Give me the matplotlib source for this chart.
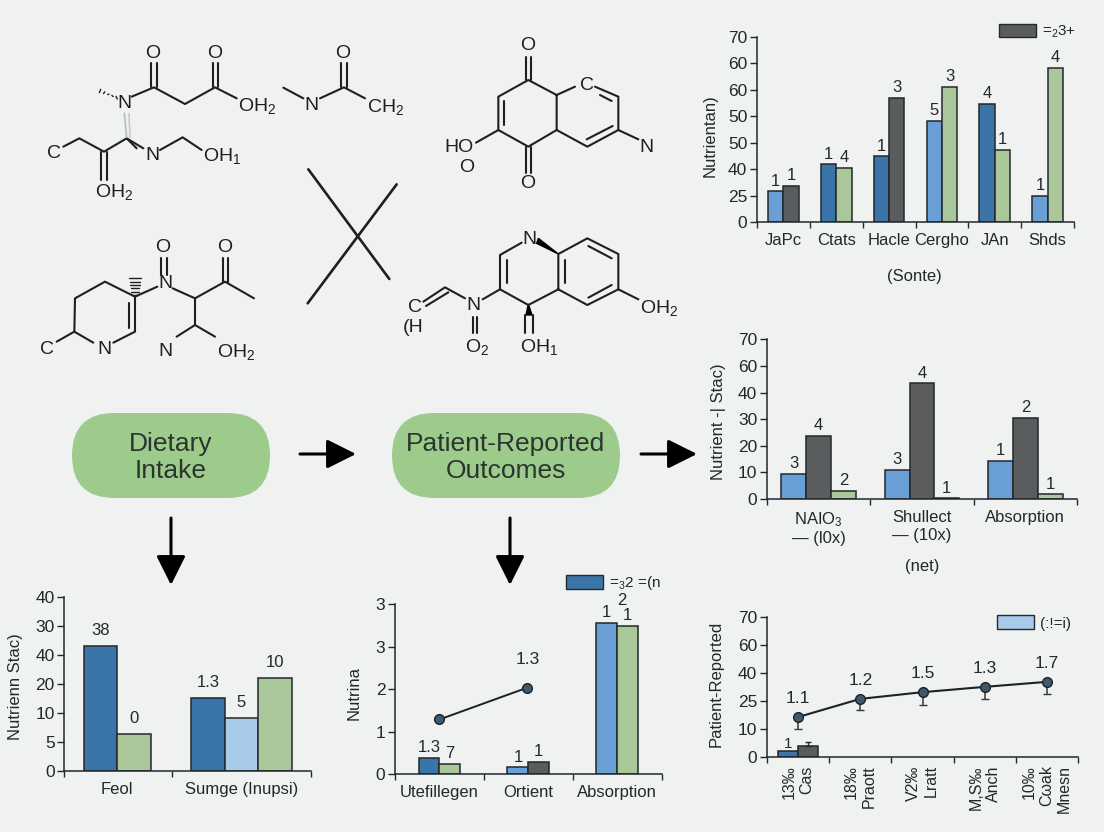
import matplotlib
matplotlib.use("Agg")
import matplotlib.pyplot as plt
from matplotlib.patches import FancyBboxPatch, Patch, Polygon

plt.rcParams['font.family'] = ['Liberation Sans', 'DejaVu Sans']
plt.rcParams['mathtext.fontset'] = 'custom'
plt.rcParams['mathtext.rm'] = 'Liberation Sans'
plt.rcParams['mathtext.default'] = 'regular'

W, H = 1104, 832
BG = '#f0f1f1'
INK = '#22282c'
DARK = '#3b74a8'
LIGHT = '#6a9fd6'
GREY = '#5b5c5d'
GREEN = '#a9c798'
PALE = '#a8cbec'
PILL = '#9dcb8c'

# top right chart
top_cats = ['JaPc', 'Ctats', 'Hacle', 'Cergho', 'JAn', 'Shds']
top_ticks = ['0', '25', '40', '50', '50', '60', '60', '70']
top_vals = [[11.6, 13.6], [21.8, 20.4], [24.8, 46.9], [38.3, 51.0], [44.6, 27.1], [10.0, 58.1]]
top_labels = [['1', '1'], ['1', '4'], ['1', '3'], ['5', '3'], ['4', '1'], ['1', '4']]
top_colors = [[LIGHT, GREY], [DARK, GREEN], [DARK, GREY], [LIGHT, GREEN], [DARK, GREEN], [LIGHT, GREEN]]

# middle right chart
mid_cats = ['NAIO$_3$\n— (l0x)', 'Shullect\n— (10x)', 'Absorption']
mid_ticks = ['0', '10', '20', '30', '40', '60', '70']
mid_vals = [[9.5, 23.8, 3.1], [10.8, 43.4, 0.2], [14.3, 30.5, 1.7]]
mid_labels = [['3', '4', '2'], ['3', '4', '1'], ['1', '2', '1']]
mid_colors = [LIGHT, GREY, GREEN]

# bottom right chart
low_cats = ['13‰\nCas', '18‰\nPraott', 'V2‰\nLratt', 'M,S‰\nAnch', '10‰\nCωak\nMnesn']
low_ticks = ['0', '10', '25', '40', '60', '70']
low_line = [14.3, 20.8, 23.2, 25.1, 26.9]
low_err = [4.1, 4.1, 4.7, 4.2, 4.4]
low_line_labels = ['1.1', '1.2', '1.5', '1.3', '1.7']
low_bars = [2.1, 3.8]
low_bar_err = 1.6

# bottom middle chart
cen_cats = ['Utefillegen', 'Ortient', 'Absorption']
cen_ticks = ['0', '1', '2', '3', '3']
cen_vals = [[0.38, 0.25], [0.165, 0.29], [3.56, 3.5]]
cen_labels = [['1.3', '7'], ['1', '1'], ['1', '1']]
cen_colors = [[DARK, GREEN], [LIGHT, GREY], [LIGHT, GREEN]]
cen_line = [1.29, 2.04]

# bottom left chart
left_cats = ['Feol', 'Sumge (Inupsi)']
left_ticks = ['0', '5', '10', '20', '40', '30', '40']
left_vals = [[4.3, 1.26], [2.5, 1.82, 3.18]]
left_labels = [['38', '0'], ['1.3', '5', '10']]
left_colors = [[DARK, GREEN], [DARK, PALE, GREEN]]

fig = plt.figure(figsize=(W / 100, H / 100), dpi=100, facecolor=BG)

# whole figure layer in pixels, used for the drawing and the flow arrows
bg = fig.add_axes([0, 0, 1, 1])
bg.set_xlim(0, W)
bg.set_ylim(H, 0)
bg.axis('off')


def panel(x0, x1, y_base, y_top, ylim, ticks, tick_labels, ylabel, label_xy):
    ax = fig.add_axes([x0 / W, 1 - y_base / H, (x1 - x0) / W, (y_base - y_top) / H])
    ax.patch.set_visible(False)
    for side in ['top', 'right']:
        ax.spines[side].set_visible(False)
    for side in ['left', 'bottom']:
        ax.spines[side].set_linewidth(1.1)
        ax.spines[side].set_color(INK)
    ax.set_ylim(*ylim)
    ax.set_yticks(ticks)
    ax.set_yticklabels(tick_labels, fontsize=12.5, color=INK)
    ax.tick_params(axis='y', length=5, width=1, color=INK, pad=2)
    ax.set_ylabel(ylabel, fontsize=12, color=INK)
    ax.yaxis.set_label_coords(label_xy[0], label_xy[1], transform=bg.transData)
    return ax


def cat_axis(ax, edges, centers, names, size=12):
    ax.set_xlim(edges[0], edges[-1])
    ax.set_xticks(edges)
    ax.set_xticklabels([])
    ax.tick_params(axis='x', which='major', length=4, width=1, color=INK)
    ax.set_xticks(centers, minor=True)
    ax.set_xticklabels(names, minor=True, fontsize=size, color=INK)
    ax.tick_params(axis='x', which='minor', length=0, pad=8)


def group_bars(ax, center, vals, labels, colors, width, size=12, pad=2):
    start = center - width * len(vals) / 2
    xs = [start + width * (i + 0.5) for i in range(len(vals))]
    bars = ax.bar(xs, vals, width, color=colors, edgecolor=INK, linewidth=1.1)
    ax.bar_label(bars, labels=labels, padding=pad, fontsize=size, color=INK)


def small_legend(ax, color, text, anchor):
    leg = ax.legend(handles=[Patch(facecolor=color, edgecolor=INK, linewidth=1, label=text)],
                    loc='center left', bbox_to_anchor=anchor, bbox_transform=bg.transData,
                    frameon=False, fontsize=11, handlelength=2.4, handleheight=1.0,
                    handletextpad=0.4, borderpad=0, borderaxespad=0)
    leg.get_texts()[0].set_color(INK)


# chart 1
ax = panel(757, 1074, 222, 36.7, (0, 70), range(0, 71, 10), top_ticks, 'Nutrientan)', (718, 136))
cat_axis(ax, list(range(7)), [i + 0.5 for i in range(6)], top_cats, size=12)
for i in range(6):
    group_bars(ax, i + 0.5, top_vals[i], top_labels[i], top_colors[i], 0.29)
small_legend(ax, GREY, '=$_2$3+', (999, 32))
bg.text(914, 277, '(Sonte)', ha='center', va='center', fontsize=12, color=INK)

# chart 2
ax = panel(767, 1077, 499, 339.3, (0, 60), range(0, 61, 10), mid_ticks, 'Nutrient -| Stac)', (726, 422))
cat_axis(ax, [0, 1, 2, 3], [0.5, 1.5, 2.5], mid_cats, size=12)
for i in range(3):
    group_bars(ax, i + 0.5, mid_vals[i], mid_labels[i], mid_colors, 0.24)
bg.text(922, 567, '(net)', ha='center', va='center', fontsize=12, color=INK)

# chart 3
ax = panel(767, 1078, 757, 617.3, (0, 50), range(0, 51, 10), low_ticks, 'Patient-Reported', (724, 684))
cat_axis(ax, [0, 1, 2, 3, 4, 5], [i + 0.5 for i in range(5)], low_cats, size=11.5)
for t in ax.get_xticklabels(minor=True):
    t.set_rotation(90)
    t.set_multialignment('right')
ax.tick_params(axis='x', which='minor', pad=6)
xs = [i + 0.5 for i in range(5)]
b = ax.bar([0.34, 0.66], low_bars, 0.32, color=[DARK, GREY], edgecolor=INK, linewidth=1.1)
ax.bar_label(b, labels=['1', ''], padding=0, fontsize=11, color=INK)
ax.errorbar([0.66], [low_bars[1]], yerr=[[0], [low_bar_err]], fmt='none', ecolor=INK, elinewidth=1, capsize=2)
ax.errorbar(xs, low_line, yerr=[low_err, [0] * 5], fmt='-o', color='#1c2226', linewidth=1.5,
            markersize=7, markerfacecolor='#3d5a6c', markeredgecolor='#1c2226', ecolor='#33393d',
            elinewidth=1.1, capsize=3)
for x, y, s in zip(xs, low_line, low_line_labels):
    ax.annotate(s, (x, y), xytext=(0, 10), textcoords='offset points', ha='center', fontsize=12.5, color=INK)
small_legend(ax, PALE, '(:!=i)', (997, 623))

# chart 4
ax = panel(395, 661.7, 774.3, 604.3, (0, 4), range(5), cen_ticks, 'Nutrina', (362, 693))
cat_axis(ax, [0, 1, 2, 3], [0.5, 1.5, 2.5], cen_cats, size=12)
for i in range(3):
    group_bars(ax, i + 0.5, cen_vals[i], cen_labels[i], cen_colors[i], 0.235)
ax.plot([0.5, 1.49], cen_line, '-o', color='#1c2226', linewidth=1.4, markersize=7,
        markerfacecolor='#3d5a6c', markeredgecolor='#1c2226')
ax.annotate('1.3', (1.49, cen_line[1]), xytext=(0, 17), textcoords='offset points',
            ha='center', fontsize=12.5, color=INK)
ax.annotate('2', (2.5, cen_vals[2][0]), xytext=(3, 13), textcoords='offset points',
            ha='center', fontsize=12, color=INK)
small_legend(ax, DARK, '=$_3$2 =(n', (566, 583))

# chart 5
ax = panel(64.3, 311, 770.7, 596.7, (0, 6), range(7), left_ticks, 'Nutrienn Stac)', (23, 687))
cat_axis(ax, [0, 1, 2.284], [0.49, 1.64], left_cats, size=12)
group_bars(ax, 0.49, left_vals[0], left_labels[0], left_colors[0], 0.31, pad=6)
group_bars(ax, 1.64, left_vals[1], left_labels[1], left_colors[1], 0.31, pad=6)


# flow boxes
def pill(x0, x1, y0, y1, text):
    r = (y1 - y0) / 2
    bg.add_patch(FancyBboxPatch((x0 + r, y0 + r), x1 - x0 - 2 * r, 0.01,
                                boxstyle='round,pad=%f,rounding_size=%f' % (r, r),
                                facecolor=PILL, edgecolor='none'))
    bg.text((x0 + x1) / 2, (y0 + y1) / 2 + 2, text, ha='center', va='center',
            fontsize=19, color='#2b3530', linespacing=1.15)


pill(72, 270, 413, 498, 'Dietary\nIntake')
pill(392, 620, 413, 498, 'Patient-Reported\nOutcomes')


def arrow(x0, y0, x1, y1):
    bg.annotate('', xy=(x1, y1), xytext=(x0, y0),
                arrowprops=dict(arrowstyle='-|>,head_length=0.9,head_width=0.45', color='black',
                                lw=2.2, mutation_scale=20, shrinkA=0, shrinkB=0))


arrow(300, 454, 356, 454)
arrow(641, 454, 697, 454)
arrow(171, 518, 171, 585)
arrow(510, 518, 510, 585)


# molecule drawing, coordinates are pixels of the page
def chain(points, lw=1.5, color='#1d1f21'):
    bg.plot([p[0] for p in points], [p[1] for p in points], color=color, linewidth=lw,
            solid_capstyle='round', solid_joinstyle='round')


def from_a(p):
    return (30 + p[0] / 3, 30 + p[1] / 3)


def from_b(p):
    return (390 + p[0] / 3, 30 + p[1] / 3)


def atom(x, y, s, size=14):
    bg.text(x, y, s, ha='center', va='center', fontsize=size, color='#1d1f21')


left_bonds = [
    [(305, 200), (372, 172), (465, 222), (555, 172), (620, 205)],
    [(364, 100), (364, 172)], [(380, 100), (380, 172)],
    [(548, 100), (548, 172)], [(563, 100), (563, 172)],
    [(320, 355), (290, 325), (222, 365), (148, 325), (100, 350)],
    [(290, 325), (340, 355)],
    [(390, 360), (458, 322), (515, 360)],
    [(213, 365), (213, 450)], [(230, 365), (230, 450)],
    [(760, 173), (820, 205)],
    [(870, 205), (942, 172), (1005, 205)],
    [(933, 100), (933, 172)], [(950, 100), (950, 172)],
    [(80, 935), (133, 905), (190, 938)],
    [(250, 938), (315, 905), (315, 800), (225, 755), (135, 805), (133, 905)],
    [(298, 895), (298, 820)],
    [(315, 800), (382, 770)],
    [(392, 685), (392, 735)], [(410, 685), (410, 735)],
    [(428, 775), (495, 805), (585, 755), (672, 805)],
    [(578, 685), (578, 755)], [(593, 685), (593, 755)],
    [(495, 805), (495, 885), (440, 920)],
    [(495, 885), (555, 920)],
]
for b_pts in left_bonds:
    chain([from_a(p) for p in b_pts])

# the two long crossed strokes
chain([from_a((835, 418)), from_a((1078, 747))], lw=1.9)
chain([from_a((1100, 463)), from_a((833, 820))], lw=1.9)

# hashed bonds
for t in range(5):
    f = t / 4
    x = 210 + f * 50
    y = 183 + f * 20
    chain([from_a((x - 2, y + 5 - f * 9)), from_a((x + 2, y - 5 + f * 9))], lw=1)
chain([from_a((283, 250)), from_a((290, 322))], lw=1.2, color='#b8bbbd')
chain([from_a((297, 250)), from_a((300, 322))], lw=1.2, color='#c8cacb')
for t in range(6):
    f = t / 5
    y = 795 - f * 50
    half = 9 + f * 9
    chain([from_a((315 - half, y)), from_a((315 + half, y))], lw=1)

right_bonds = [
    [(408, 80), (408, 150)], [(423, 80), (423, 150)],
    [(500, 195), (415, 150), (325, 200), (325, 300), (415, 350), (500, 300), (500, 195)],
    [(343, 212), (343, 285)],
    [(500, 195), (555, 170)],
    [(615, 170), (685, 200), (685, 300), (592, 350), (500, 300)],
    [(630, 195), (665, 213)], [(590, 328), (668, 288)],
    [(685, 300), (745, 328)],
    [(325, 300), (258, 338)],
    [(408, 350), (408, 430)], [(423, 350), (423, 430)],
    [(395, 638), (330, 675), (330, 778), (415, 825), (505, 778), (505, 672),
     (592, 625), (685, 672), (685, 778), (592, 825), (505, 778)],
    [(350, 690), (350, 760)], [(525, 690), (525, 760)],
    [(595, 648), (665, 685)], [(595, 803), (665, 765)],
    [(685, 778), (745, 808)],
    [(330, 778), (278, 808)],
    [(225, 805), (165, 772), (100, 815)], [(175, 787), (108, 828)],
    [(248, 860), (248, 910)], [(262, 860), (262, 910)],
    [(405, 855), (405, 910)], [(428, 855), (428, 910)],
]
for b_pts in right_bonds:
    chain([from_b(p) for p in b_pts])

bg.add_patch(Polygon([from_b((445, 625)), from_b((505, 672)), from_b((440, 640))], color='black'))
bg.add_patch(Polygon([from_b((408, 855)), from_b((415, 822)), from_b((426, 855))], color='black'))

for x, y, s in [(153, 53, 'O'), (215, 53, 'O'), (124, 103, 'N'), (257, 106, 'OH$_2$'),
                (54, 154, 'C'), (152, 156, 'N'), (222, 156, 'OH$_1$'), (114, 192, 'OH$_2$'),
                (343, 53, 'O'), (311, 106, 'N'), (386, 107, 'CH$_2$'),
                (163, 247, 'O'), (225, 247, 'O'), (165, 283, 'N'), (47, 350, 'C'), (104, 350, 'N'),
                (165, 351, 'N'), (236, 352, 'OH$_2$'),
                (528, 45, 'O'), (587, 86, 'C'), (646, 147, 'N'), (459, 147, 'HO'), (467, 168, 'O'),
                (528, 184, 'O'), (529, 239, 'N'), (415, 307, 'C'), (413, 327, '(H'),
                (473, 306, 'N'), (477, 347, 'O$_2$'), (539, 347, 'OH$_1$'), (659, 308, 'OH$_2$')]:
    atom(x, y, s)

fig.savefig('out.png', dpi=100, facecolor=BG)
